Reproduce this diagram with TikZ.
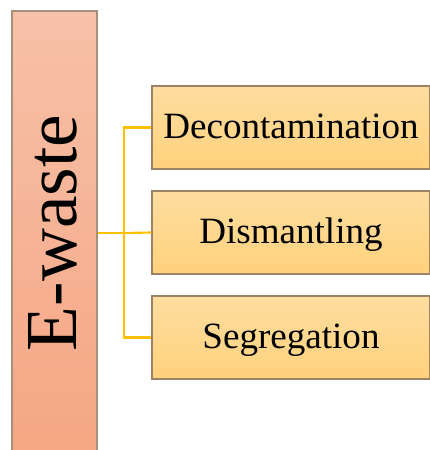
\documentclass[tikz,border=0pt]{standalone}
\usepackage{fontspec}
\setmainfont{Liberation Serif}
\begin{document}
\begin{tikzpicture}[x=0.75pt,y=-0.75pt,
  mainbar/.style={draw=black!45!brown!60!white, line width=0.9pt,
    top color=salmontop, bottom color=salmonbot,
    minimum width=63.75pt, minimum height=330pt, inner sep=0pt},
  stepbox/.style={draw=black!40!brown!70!white, line width=0.9pt,
    top color=goldtop, bottom color=goldbot,
    minimum width=208.5pt, minimum height=62.25pt, inner sep=0pt,
    font=\fontsize{27.8}{30}\selectfont, text height=20pt, text depth=4pt},
  link/.style={draw=linkgold, line width=1.6pt}]
\definecolor{salmontop}{HTML}{F7C1A9}
\definecolor{salmonbot}{HTML}{F5A683}
\definecolor{goldtop}{HTML}{FEDDA0}
\definecolor{goldbot}{HTML}{FFD27C}
\definecolor{linkgold}{HTML}{FFC000}
\useasboundingbox (0,0) rectangle (429,450);
% left bar with rotated title
\node[mainbar] (ewaste) at (54.5,231) {};
\node[rotate=90, font=\fontsize{55}{60}\selectfont] (title) at (53,233) {E-waste};
% the three process steps
\node[stepbox] (b1) at (291,127.5) {Decontamination};
\node[stepbox] (b2) at (291,232.5) {Dismantling};
\node[stepbox] (b3) at (291,337.5) {Segregation};
% bracket connector
\coordinate (j) at (124,233);
\draw[link] (ewaste.east |- j) -- (j);
\draw[link] (b1.west) -| (j) |- (b3.west);
\draw[link] (j) -- (b2.west);
\end{tikzpicture}
\end{document}
